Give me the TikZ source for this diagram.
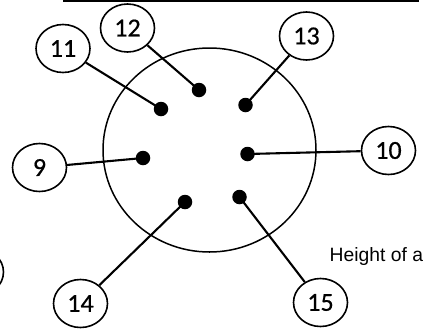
\documentclass[tikz,border=0pt]{standalone}
\usepackage{fontspec}
\setmainfont{Carlito}
\newfontfamily\arialfont{Liberation Sans}
\newfontfamily\pinfont[FakeBold=0.6]{Carlito}
\usetikzlibrary{shapes.geometric}
\tikzset{
  pinlabel/.style={draw=black,line width=1.6pt,ellipse,fill=white,minimum width=54pt,minimum height=48pt,inner sep=0pt,font=\pinfont\fontsize{26}{30}\selectfont},
  pindot/.style={circle,fill=black,minimum size=14.5pt,inner sep=0pt},
  wire/.style={line width=2.1pt,black},
}
\begin{document}
\begin{tikzpicture}[x=1pt,y=-1pt]
\useasboundingbox (0,0) rectangle (423,330);
\clip (0,0) rectangle (423,330);
\fill[white] (0,0) rectangle (423,330);
\fill[black] (63,0) rectangle (419,2.4);
\node[draw=black,line width=1.5pt,ellipse,minimum width=213pt,minimum height=204pt,inner sep=0pt] (body) at (209.5,150) {};
\node[pindot] (d9) at (143,158) {};
\node[pindot] (d10) at (247.5,154) {};
\node[pindot] (d11) at (161,109) {};
\node[pindot] (d12) at (199,90) {};
\node[pindot] (d13) at (245.5,105) {};
\node[pindot] (d14) at (185,202) {};
\node[pindot] (d15) at (239.5,197) {};
\node[pinlabel] (n9) at (39.5,167.5) {9};
\node[pinlabel] (n10) at (388.5,150.5) {10};
\node[pinlabel] (n11) at (63,48.5) {11};
\node[pinlabel] (n12) at (127.5,28) {12};
\node[pinlabel] (n13) at (306.5,36) {13};
\node[pinlabel] (n14) at (80.5,303.5) {14};
\node[pinlabel] (n15) at (320.5,302.5) {15};
\node[pinlabel] (npart) at (-23.5,272) {};
\draw[wire] (n9) -- (d9.center);
\draw[wire] (n10) -- (d10.center);
\draw[wire] (n11) -- (d11.center);
\draw[wire] (n12) -- (d12.center);
\draw[wire] (n13) -- (d13.center);
\draw[wire] (n14) -- (d14.center);
\draw[wire] (n15) -- (d15.center);
\node[anchor=base west,inner sep=0pt,font=\arialfont\fontsize{19.3}{22}\selectfont] (cap) at (329.5,261) {Height of a};
\end{tikzpicture}
\end{document}
